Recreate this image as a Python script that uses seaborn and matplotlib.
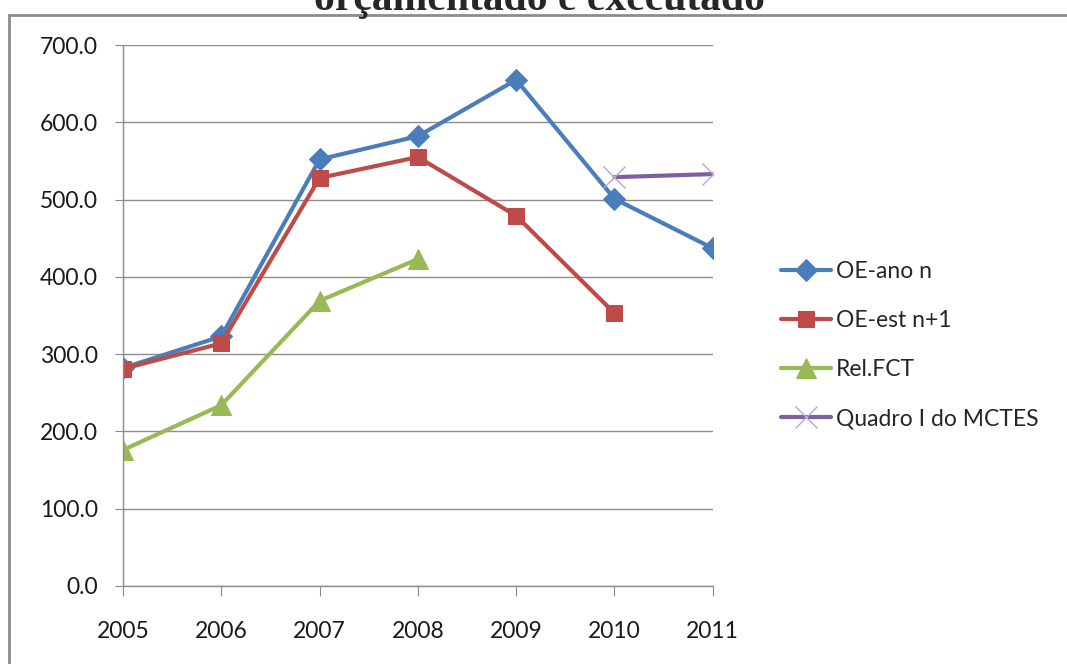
import matplotlib
matplotlib.use("Agg")
import matplotlib.pyplot as plt
import matplotlib.patches as patches
import seaborn as sns
import numpy as np

# dados
anos = [2005, 2006, 2007, 2008, 2009, 2010, 2011]
oe_ano_n = [282, 323, 552, 582, 655, 501, 437]
oe_est_n1 = [281, 314, 528, 555, 479, 353]
rel_fct = [176, 234, 369, 423]
quadro_anos = [2010, 2011]
quadro_mctes = [529, 533]

sns.set_style("white")
plt.rcParams['font.family'] = ['Lato', 'DejaVu Sans']

fig = plt.figure(figsize=(10.67, 6.64), dpi=100)
ax = fig.add_axes([0.1153, 0.1175, 0.668 - 0.1153, 0.9322 - 0.1175])

sns.lineplot(x=anos, y=oe_ano_n, ax=ax, color="#4A7EBB", lw=3, marker="D",
             markersize=11, markeredgecolor="#4A7EBB", label="OE-ano n")
sns.lineplot(x=anos[:len(oe_est_n1)], y=oe_est_n1, ax=ax, color="#BE4B48", lw=3,
             marker="s", markersize=12, markeredgecolor="#BE4B48", label="OE-est n+1")
sns.lineplot(x=anos[:len(rel_fct)], y=rel_fct, ax=ax, color="#98B954", lw=3,
             marker="^", markersize=14, markeredgecolor="#98B954", label="Rel.FCT")
sns.lineplot(x=quadro_anos, y=quadro_mctes, ax=ax, color="#7D60A0", lw=3,
             marker="x", markersize=16, markeredgewidth=1, markeredgecolor="#B7A6CF",
             label="Quadro I do MCTES")

ax.set_xlim(2005, 2011)
ax.set_ylim(0, 700)
ax.set_xticks(anos)
ax.set_xticklabels([str(a) for a in anos])
ax.set_yticks(np.arange(0, 701, 100))
ax.set_yticklabels(["%.1f" % v for v in np.arange(0, 701, 100)])
ax.yaxis.grid(True, color="#8C8C8C", lw=1)
ax.set_axisbelow(True)
for s in ["top", "right"]:
    ax.spines[s].set_visible(False)
for s in ["left", "bottom"]:
    ax.spines[s].set_color("#8C8C8C")
    ax.spines[s].set_linewidth(1)
ax.tick_params(axis="x", length=7, color="#8C8C8C", pad=18, labelsize=16.5, direction="out", bottom=True)
ax.tick_params(axis="y", length=6, color="#8C8C8C", pad=12, labelsize=16.5, direction="out", left=True)
for t in ax.get_xticklabels() + ax.get_yticklabels():
    t.set_color("#1a1a1a")

ax.legend(loc="center left", bbox_to_anchor=(0.732, 0.48), bbox_transform=fig.transFigure,
          frameon=False, fontsize=16.5, handlelength=2.2, handletextpad=0.2,
          labelspacing=1.22, borderpad=0, borderaxespad=0)

fig.text(0.506, 0.985, "orçamentado e executado", ha="center", va="baseline",
         fontsize=30, fontweight="bold", family=["Liberation Serif", "DejaVu Serif"])

# moldura do gráfico
fig.patches.append(patches.Rectangle((9 / 1067, -0.1), 1.2, 1.1 - 15 / 664,
                                     transform=fig.transFigure, fill=False,
                                     edgecolor="#8C8C8C", lw=2, clip_on=False))

fig.savefig("out.png", dpi=100)
